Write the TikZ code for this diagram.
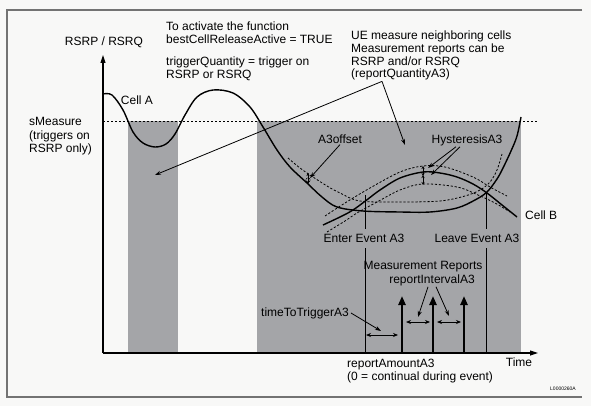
\documentclass[tikz,border=0pt]{standalone}
\usepackage{fontspec}
\setmainfont{Liberation Sans}
\usetikzlibrary{arrows.meta}
\definecolor{band}{RGB}{164,165,168}
\definecolor{paper}{RGB}{248,248,247}
\definecolor{frame}{RGB}{115,115,115}
\tikzset{
  lbl/.style={inner sep=0pt, font=\fontsize{12}{12.6}\selectfont},
  para/.style={lbl, align=left, anchor=north west},
  pointer/.style={line width=0.8pt, -{Stealth[length=6pt,width=4pt]}},
  span/.style={line width=0.8pt, {Stealth[length=5pt,width=4pt]}-{Stealth[length=5pt,width=4pt]}},
  tiny/.style={line width=0.7pt, {Stealth[length=3pt,width=3pt]}-{Stealth[length=3pt,width=3pt]}},
  report/.style={line width=2.6pt, -{Triangle[length=9pt,width=7pt]}},
  axis/.style={line width=1.1pt, -{Triangle[length=8pt,width=5pt]}},
  level/.style={line width=0.8pt, dash pattern=on 2.2pt off 1.8pt},
  cell/.style={line width=1.4pt},
}
\newcommand{\band}[2]{\fill[band] (#1,121) rectangle (#2,353)}

\begin{document}
\begin{tikzpicture}[x=1pt,y=-1pt]
	\useasboundingbox (0,0) rectangle (591,406);
	\fill[paper] (0,0) rectangle (591,406);
	\draw[frame, line width=1.2pt] (582,10) -- (7,10) -- (7,397) -- (582,397);
		\band{128}{178};
		\band{257}{521};
		\draw[level] (103,121) -- (537,121);
	% axes
	\coordinate (origin) at (103,353);
	\coordinate (ytop) at (103,55);
	\coordinate (xend) at (538,353);
		\draw[axis] (origin) -- (ytop);
		\draw[axis] (origin) -- (xend);
	% cells
		\draw[cell] plot[smooth, tension=0.55] coordinates {(103,94) (112,95) (123,110) (133,132) (143,143) (155,147) (166,144) (175,134) (185,115) (197,97) (213,90) (233,93) (250,107) (263,127) (277,150) (290,167) (307,183) (322,197) (337,207) (363,211) (400,212) (430,212) (457,208) (475,200) (487,192) (497,179) (503,168) (511,151) (517,136) (521,117)};
		\draw[level] plot[smooth, tension=0.55] coordinates {(288,158) (300,168) (313,177) (327,186) (340,193) (360,201) (400,202) (440,201) (465,196) (480,190) (490,182) (497,170) (502,154)};
		\draw[cell] plot[smooth, tension=0.55] coordinates {(323,225) (340,217) (353,210) (368,199) (380,190) (400,178) (423,172) (440,173) (457,177) (473,184) (487,193) (502,205) (517,217)};
		\draw[level] plot[smooth, tension=0.55] coordinates {(325,216) (345,203) (370,188) (400,172) (423,166) (445,167) (473,177) (490,187) (507,196)};
		\draw[level] plot[smooth, tension=0.55] coordinates {(327,232) (345,221) (357,213) (377,202) (400,190) (423,184) (457,187) (478,195) (495,203) (510,212)};
			\draw[tiny] (308,173) -- (308,184);
			\draw (308,180) circle (2.2);
			\draw[tiny] (423,166) -- (423,176);
			\draw[tiny] (423,175) -- (423,185);
	% labels
	\node[lbl] (quantity) at (104,42) {RSRP / RSRQ};
	\node[para] (activate) at (166,22) {To activate the function\\bestCellReleaseActive = TRUE};
	\node[para] (trigger) at (166,57) {triggerQuantity = trigger on\\RSRP or RSRQ};
	\node[para] (measure) at (351,31) {UE measure neighboring cells\\Measurement reports can be\\RSRP and/or RSRQ\\(reportQuantityA3)};
	\node[para] (smeasure) at (29,117) {sMeasure\\[1pt](triggers on\\[1pt]RSRP only)};
	\node[lbl] (cellA) at (137,100) {Cell A};
	\node[lbl] (offset) at (340,139) {A3offset};
	\node[lbl] (hyst) at (467,140) {HysteresisA3};
	\node[lbl, anchor=west] (cellB) at (525,215) {Cell B};
	\node[lbl] (enter) at (364,238) {Enter Event A3};
	\node[lbl] (leave) at (477,238) {Leave Event A3};
	\node[lbl] (reports) at (423,267) {Measurement Reports};
	\node[lbl] (interval) at (432,280) {reportIntervalA3};
	\node[lbl] (ttt) at (305,313) {timeToTriggerA3};
	\node[para] (amount) at (347,359) {reportAmountA3\\(0 = continual during event)};
	\node[lbl] (time) at (519,362) {Time};
	\node[inner sep=0pt, font=\fontsize{5}{6}\selectfont] (code) at (563,389) {L0000260A};
	% pointers
	\coordinate (m) at ([xshift=31pt,yshift=-1pt]measure.south west);
	\coordinate (bandA) at (155,175);
	\coordinate (bandB) at (405,145);
		\draw[pointer] (m) -- (bandA);
		\draw[pointer] (m) -- (bandB);
	\coordinate (offA) at (310,178);
		\draw[pointer] ([yshift=-1pt]offset.south) -- (offA);
	\coordinate (hystUp) at (428,168);
	\coordinate (hystDown) at (431,175);
		\draw[pointer] ([xshift=-11pt,yshift=-1pt]hyst.south) -- (hystUp);
		\draw[pointer] ([xshift=-7pt,yshift=-1pt]hyst.south) -- (hystDown);
	% events
	\coordinate (enterTop) at (365,195);
	\coordinate (leaveTop) at (486,193);
		\draw[line width=1pt] (enterTop) -- ([yshift=5pt]enterTop |- enter.north);
		\draw[line width=1pt] ([yshift=-6pt]enterTop |- enter.south) -- (enterTop |- origin);
		\draw[line width=1pt] (leaveTop) -- ([yshift=5pt]leaveTop |- leave.north);
		\draw[line width=1pt] ([yshift=-6pt]leaveTop |- leave.south) -- (leaveTop |- origin);
	% reports
	\foreach \x [count=\i] in {402,433,464} {
		\coordinate (r\i) at (\x,296);
		\draw[report] (r\i |- origin) -- (r\i);
	}
	\coordinate (tttA) at (366,335);
	\coordinate (tttB) at (398,335);
	\coordinate (gapA) at (406,322);
	\coordinate (gapB) at (430,322);
	\coordinate (gapC) at (437,322);
	\coordinate (gapD) at (461,322);
		\draw[span] (tttA) -- (tttB);
		\draw[span] (gapA) -- (gapB);
		\draw[span] (gapC) -- (gapD);
		\draw[pointer] ([xshift=2pt]ttt.east) -- (381,331);
		\draw[pointer] ([xshift=-4pt,yshift=-1pt]interval.south) -- (418,317);
		\draw[pointer] ([xshift=4pt,yshift=-1pt]interval.south) -- (449,316);
\end{tikzpicture}
\end{document}
